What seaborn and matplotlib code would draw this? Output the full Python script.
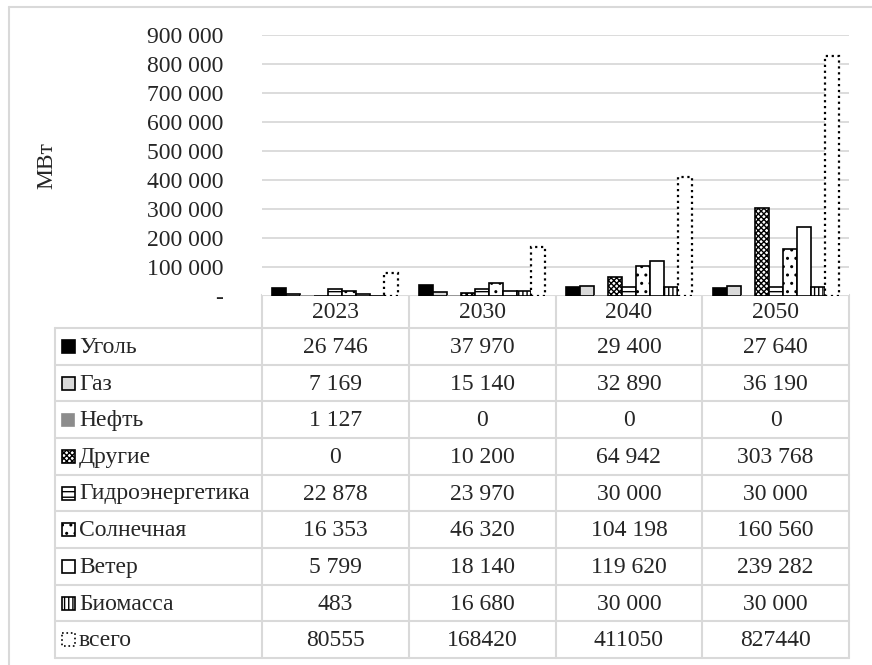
import numpy as np
import pandas as pd
import matplotlib
matplotlib.use("Agg")
import matplotlib.pyplot as plt
from matplotlib.patches import Rectangle
from matplotlib.ticker import FuncFormatter
import seaborn as sns

# ── Data ──────────────────────────────────────────────────────────────────────
years = ['2023', '2030', '2040', '2050']
sources = ['Уголь', 'Газ', 'Нефть', 'Другие', 'Гидроэнергетика',
           'Солнечная', 'Ветер', 'Биомасса', 'всего']
coal  = [26746, 37970, 29400, 27640]
gas   = [7169, 15140, 32890, 36190]
oil   = [1127, 0, 0, 0]
other = [0, 10200, 64942, 303768]
hydro = [22878, 23970, 30000, 30000]
solar = [16353, 46320, 104198, 160560]
wind  = [5799, 18140, 119620, 239282]
bio   = [483, 16680, 30000, 30000]
total = [80555, 168420, 411050, 827440]
values = [coal, gas, oil, other, hydro, solar, wind, bio, total]

rows = []
for src, vals in zip(sources, values):
    for y, v in zip(years, vals):
        rows.append({'year': y, 'source': src, 'value': v})
df = pd.DataFrame(rows)

# bar styles: face, edge, hatch, linestyle
styles = {
    'Уголь':           ('black',   'black',   None,    '-'),
    'Газ':             ('#d9d9d9', 'black',   None,    '-'),
    'Нефть':           ('#8c8c8c', '#8c8c8c', None,    '-'),
    'Другие':          ('white',   'black',   'xxxxxx', '-'),
    'Гидроэнергетика': ('white',   'black',   '---',   '-'),
    'Солнечная':       ('white',   'black',   '..',    '-'),
    'Ветер':           ('white',   'black',   None,    '-'),
    'Биомасса':        ('white',   'black',   '||||',  '-'),
    'всего':           ('white',   'black',   None,    ':'),
}

sns.set_style("white")
plt.rcParams['font.family'] = ['Liberation Serif', 'DejaVu Serif']
plt.rcParams['hatch.linewidth'] = 1.0

W, H = 872, 665
fig = plt.figure(figsize=(W / 100, H / 100), dpi=100)

# plot area in pixels
px_left, px_right, px_top, px_bottom = 262, 849, 35, 296
ax = fig.add_axes([px_left / W, 1 - px_bottom / H,
                   (px_right - px_left) / W, (px_bottom - px_top) / H])

palette = {s: styles[s][0] for s in sources}
sns.barplot(data=df, x='year', y='value', hue='source', order=years,
            hue_order=sources, palette=palette, width=0.86, saturation=1,
            legend=False, errorbar=None, ax=ax)

for cont, src in zip(ax.containers, sources):
    face, edge, hatch, ls = styles[src]
    for p in cont:
        p.set_facecolor(face)
        p.set_edgecolor(edge)
        p.set_linewidth(1.6 if ls == ':' else 1.2)
        p.set_linestyle(ls)
        if hatch:
            p.set_hatch(hatch)

ax.set_ylim(0, 900000)
ax.set_xlim(-0.5, 3.5)
ax.set_yticks(np.arange(0, 900001, 100000))
ax.yaxis.set_major_formatter(FuncFormatter(
    lambda v, pos: '-' if v == 0 else f'{int(v):,}'.replace(',', ' ')))
ax.tick_params(axis='y', labelsize=17, length=0, pad=28)
ax.set_xticks([])
ax.set_xlabel('')
ax.set_ylabel('МВт', fontsize=17)
ax.yaxis.set_label_coords((57 - px_left) / (px_right - px_left), 0.5)
ax.grid(axis='y', color='#d9d9d9', linewidth=1.3)
ax.set_axisbelow(True)
for sp in ax.spines.values():
    sp.set_visible(False)

# ── Data table under the plot ────────────────────────────────────────────────
tab = fig.add_axes([0, 0, 1, 1], zorder=-1)
tab.set_xlim(0, W)
tab.set_ylim(H, 0)
tab.axis('off')

grid_c = '#d9d9d9'
lw = 1.5
# outer chart frame
tab.plot([8.5, 8.5], [H, 7], color=grid_c, lw=lw)
tab.plot([8.5, W], [7, 7], color=grid_c, lw=lw)

label_x0 = 55
col_edges = np.linspace(px_left, px_right, len(years) + 1)
head_top, head_bot = 295, 328
row_h = (658 - head_bot) / len(sources)
row_edges = [head_bot + k * row_h for k in range(len(sources) + 1)]

tab.plot([px_left, px_right], [head_top, head_top], color=grid_c, lw=lw)
for y in row_edges:
    tab.plot([label_x0, px_right], [y, y], color=grid_c, lw=lw)
for x in col_edges:
    tab.plot([x, x], [head_top, row_edges[-1]], color=grid_c, lw=lw)
tab.plot([label_x0, label_x0], [head_bot, row_edges[-1]], color=grid_c, lw=lw)

col_mid = (col_edges[:-1] + col_edges[1:]) / 2
for x, yr in zip(col_mid, years):
    tab.text(x, (head_top + head_bot) / 2 + 1, yr, fontsize=17,
             ha='center', va='center')

def fmt(v, src):
    if src == 'всего':
        return str(v)
    return f'{v:,}'.replace(',', ' ')

for i, (src, vals) in enumerate(zip(sources, values)):
    yc = (row_edges[i] + row_edges[i + 1]) / 2 + 1
    face, edge, hatch, ls = styles[src]
    size = 12 if src == 'Нефть' else 13
    key = Rectangle((62, yc - size / 2 - 1), size, size, facecolor=face,
                    edgecolor=edge, hatch=hatch, linestyle=ls, linewidth=1.2)
    tab.add_patch(key)
    tab.text(79, yc, src, fontsize=17, ha='left', va='center')
    for x, v in zip(col_mid, vals):
        tab.text(x, yc, fmt(v, src), fontsize=17, ha='center', va='center')

fig.savefig('out.png', dpi=100, facecolor='white')
